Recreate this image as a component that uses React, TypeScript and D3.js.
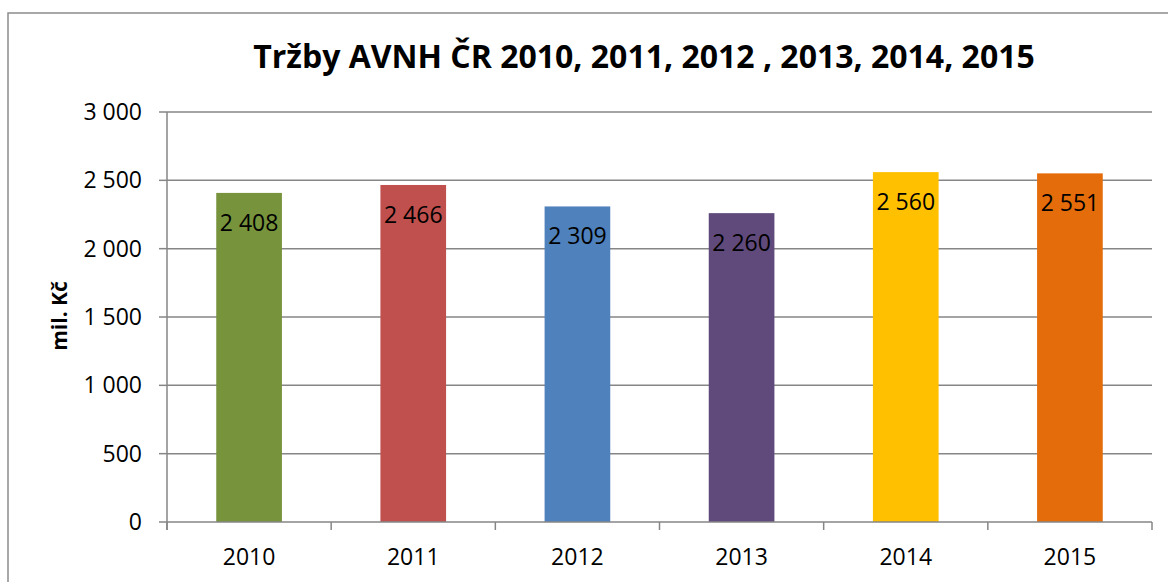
import React from "react";
import * as d3 from "d3";

const categories = ["2010", "2011", "2012", "2013", "2014", "2015"];
const values = [2408, 2466, 2309, 2260, 2560, 2551];
const barColors = ["#77933c", "#c0504d", "#4f81bd", "#604a7b", "#ffc000", "#e46c0a"];
const yTicks = [0, 500, 1000, 1500, 2000, 2500, 3000];
const title = "Tržby AVNH ČR 2010, 2011, 2012 , 2013, 2014, 2015";
const yAxisTitle = "mil. Kč";

const W = 1168;
const H = 582;
const M = { left: 167, right: 1152, top: 112, bottom: 522 };
const FONT = "'Open Sans', 'Liberation Sans', sans-serif";
const GRID = "#868686";

const fmt = (v: number) => {
  const s = String(v);
  return s.replace(/\B(?=(\d{3})+(?!\d))/g, " ");
};

export default function App() {
  const x = d3
    .scaleBand<string>()
    .domain(categories)
    .range([M.left, M.right])
    .paddingInner(0.6)
    .paddingOuter(0.3);
  const y = d3.scaleLinear().domain([0, 3000]).range([M.bottom, M.top]);
  const step = x.step();
  const boundaries = d3.range(categories.length + 1).map((i) => M.left + i * step);

  return (
    <svg
      width={W}
      height={H}
      style={{ position: "absolute", left: 0, top: 0, display: "block" }}
      fontFamily={FONT}
    >
      <rect x={0} y={0} width={W} height={H} fill="#fff" />
      <rect x={8} y={13} width={W + 20} height={H + 20} fill="none" stroke="#8c8c8c" strokeWidth={1.5} />
      <text x={644} y={68} textAnchor="middle" fontWeight="bold" fontSize={32} fill="#000">
        {title}
      </text>
      {yTicks.map((t) => (
        <g key={t}>
          {t > 0 && (
            <line x1={M.left} x2={M.right} y1={y(t)} y2={y(t)} stroke={GRID} strokeWidth={1.5} />
          )}
          <line x1={159} x2={M.left} y1={y(t)} y2={y(t)} stroke={GRID} strokeWidth={1.5} />
          <text x={142} y={y(t) + 8} textAnchor="end" fontSize={23} fill="#000">
            {fmt(t)}
          </text>
        </g>
      ))}
      <text
        transform={`translate(67,316) rotate(-90)`}
        textAnchor="middle"
        fontWeight="bold"
        fontSize={21}
        fill="#000"
      >
        {yAxisTitle}
      </text>
      {categories.map((c, i) => (
        <g key={c}>
          <rect
            x={x(c)}
            y={y(values[i])}
            width={x.bandwidth()}
            height={y(0) - y(values[i])}
            fill={barColors[i]}
          />
          <text
            x={(x(c) as number) + x.bandwidth() / 2}
            y={y(values[i]) + 38}
            textAnchor="middle"
            fontSize={23}
            fill="#000"
          >
            {fmt(values[i])}
          </text>
          <text
            x={(x(c) as number) + x.bandwidth() / 2}
            y={565}
            textAnchor="middle"
            fontSize={23}
            fill="#000"
          >
            {c}
          </text>
        </g>
      ))}
      <line x1={M.left} x2={M.left} y1={M.top} y2={M.bottom + 8} stroke={GRID} strokeWidth={1.5} />
      <line x1={M.left} x2={M.right} y1={M.bottom} y2={M.bottom} stroke={GRID} strokeWidth={1.5} />
      {boundaries.map((b, i) => (
        <line key={i} x1={b} x2={b} y1={M.bottom} y2={M.bottom + 8} stroke={GRID} strokeWidth={1.5} />
      ))}
    </svg>
  );
}
